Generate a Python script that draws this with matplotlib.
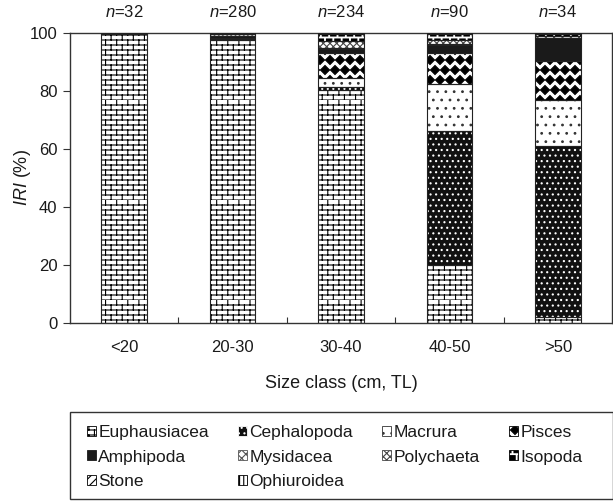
import warnings
warnings.filterwarnings('ignore')
import numpy as np
import matplotlib
matplotlib.use('Agg')
import matplotlib.pyplot as plt
import matplotlib.hatch as mhatch
import matplotlib.patches as mpatches
from matplotlib.path import Path
from matplotlib.ticker import FixedLocator

# ---------------- data ----------------
size_classes = ['<20', '20-30', '30-40', '40-50', '>50']
n_fish = [32, 280, 234, 90, 34]

euphausiacea = [99.6, 97.5, 80.3, 20.0, 2.0]
cephalopoda = [0.0, 0.3, 1.2, 46.3, 59.1]
macrura = [0.0, 0.3, 3.0, 16.0, 15.9]
pisces = [0.0, 0.2, 8.5, 10.7, 13.3]
amphipoda = [0.4, 0.6, 1.5, 3.0, 8.1]
mysidacea = [0.0, 0.8, 0.3, 0.3, 0.5]
polychaeta = [0.0, 0.1, 2.3, 1.2, 0.2]
isopoda = [0.0, 0.1, 2.7, 2.3, 0.7]
stone = [0.0, 0.05, 0.1, 0.1, 0.1]
ophiuroidea = [0.0, 0.05, 0.1, 0.1, 0.1]

prey_names = ['Euphausiacea', 'Cephalopoda', 'Macrura', 'Pisces', 'Amphipoda',
              'Mysidacea', 'Polychaeta', 'Isopoda', 'Stone', 'Ophiuroidea']
prey_values = [euphausiacea, cephalopoda, macrura, pisces, amphipoda,
               mysidacea, polychaeta, isopoda, stone, ophiuroidea]


# ---------------- custom hatch patterns ----------------
class BrickHatch(mhatch.HatchPatternBase):
    def __init__(self, hatch, density):
        n = hatch.count('b')
        self.rows = 20 if n else 0
        self.cols = 9
        self.num_lines = self.rows + self.rows * self.cols
        self.num_vertices = self.num_lines * 2

    def set_vertices_and_codes(self, vertices, codes):
        segs = []
        for r in range(self.rows):
            y0 = r / self.rows
            y1 = (r + 1) / self.rows
            segs.append([[0.0, y0], [1.0, y0]])
            off = 0.0 if r % 2 == 0 else 0.5 / self.cols
            for c in range(self.cols):
                xx = c / self.cols + off
                segs.append([[xx, y0], [xx, y1]])
        vertices[:] = np.array(segs, float).reshape(-1, 2)
        codes[0::2] = Path.MOVETO
        codes[1::2] = Path.LINETO


class FilledDiamonds(mhatch.Shapes):
    size = 0.45
    filled = True

    def __init__(self, hatch, density):
        self.num_rows = hatch.count('d') * 10
        self.shape_vertices = np.array([[0, 1], [1, 0], [0, -1], [-1, 0], [0, 1]], float)
        self.shape_codes = np.array([Path.MOVETO, Path.LINETO, Path.LINETO,
                                     Path.LINETO, Path.CLOSEPOLY], dtype=Path.code_type)
        super().__init__(hatch, density)


class FilledSquares(mhatch.Shapes):
    size = 0.32
    filled = True

    def __init__(self, hatch, density):
        self.num_rows = hatch.count('s') * 12
        self.shape_vertices = np.array([[-1, -1], [1, -1], [1, 1], [-1, 1], [-1, -1]], float)
        self.shape_codes = np.array([Path.MOVETO, Path.LINETO, Path.LINETO,
                                     Path.LINETO, Path.CLOSEPOLY], dtype=Path.code_type)
        super().__init__(hatch, density)


mhatch._hatch_types.extend([BrickHatch, FilledDiamonds, FilledSquares])

# face colour, hatch colour, hatch
styles = {
    'Euphausiacea': ('white', 'black', 'b'),
    'Cephalopoda': ('#111111', 'white', '...'),
    'Macrura': ('white', '#333333', '..'),
    'Pisces': ('white', 'black', 'd'),
    'Amphipoda': ('#1a1a1a', '#1a1a1a', ''),
    'Mysidacea': ('white', '#555555', 'xxxx'),
    'Polychaeta': ('white', '#444444', 'xxxxx'),
    'Isopoda': ('white', 'black', 's'),
    'Stone': ('white', 'black', '////'),
    'Ophiuroidea': ('white', 'black', '||||'),
}

plt.rcParams['font.family'] = ['Liberation Sans', 'DejaVu Sans']
plt.rcParams['mathtext.fontset'] = 'custom'
plt.rcParams['mathtext.rm'] = 'Liberation Sans'
plt.rcParams['mathtext.it'] = 'Liberation Sans:italic'
plt.rcParams['hatch.linewidth'] = 0.8
txt_color = '#1a1a1a'

fig = plt.figure(figsize=(6.13, 5.01), dpi=100)
ax = fig.add_axes([70 / 613, 1 - 323 / 501, 542 / 613, 290 / 501])

x = np.arange(len(size_classes))
width = 0.42
bottom = np.zeros(len(size_classes))
for name, vals in zip(prey_names, prey_values):
    vals = np.asarray(vals, float)
    fc, hc, h = styles[name]
    ax.bar(x, vals, width=width, bottom=bottom, color=fc, edgecolor=hc,
           hatch=h, linewidth=0, zorder=2)
    mask = vals > 0
    ax.bar(x[mask], vals[mask], width=width, bottom=bottom[mask], fill=False,
           edgecolor='#222222', linewidth=0.8, zorder=3)
    bottom = bottom + vals

ax.set_xlim(-0.5, len(size_classes) - 0.5)
ax.set_ylim(0, 100)
ax.set_yticks([0, 20, 40, 60, 80, 100])
ax.set_xticks(x)
ax.set_xticklabels(size_classes)
ax.xaxis.set_minor_locator(FixedLocator(x[:-1] + 0.5))
ax.tick_params(axis='x', which='major', length=0, pad=12, labelsize=12, labelcolor=txt_color)
ax.tick_params(axis='x', which='minor', direction='in', length=4, width=0.8, color='#333333')
ax.tick_params(axis='y', which='major', direction='out', length=5, width=0.8, pad=4,
               labelsize=12, labelcolor=txt_color, color='#333333')
for sp in ax.spines.values():
    sp.set_color('#333333')
    sp.set_linewidth(1.0)

ax.set_ylabel('$IRI$ (%)', fontsize=13, color=txt_color)
ax.yaxis.set_label_coords(-0.068, 0.5)
ax.set_xlabel('Size class (cm, TL)', fontsize=13, color=txt_color)
ax.xaxis.set_label_coords(0.5, -0.18)

for xi, n in zip(x, n_fish):
    ax.annotate('$n$=%d' % n, xy=(xi, 100), xytext=(0, 15), textcoords='offset points',
                ha='center', va='center', fontsize=12, color=txt_color, annotation_clip=False)

# legend (row-major order as in the reference)
order = ['Euphausiacea', 'Amphipoda', 'Stone', 'Cephalopoda', 'Mysidacea',
         'Ophiuroidea', 'Macrura', 'Polychaeta', 'Pisces', 'Isopoda']
handles = []
for name in order:
    fc, hc, h = styles[name]
    handles.append(mpatches.Patch(facecolor=fc, edgecolor=hc, hatch=h, linewidth=0.6,
                                  label=name))
leg = fig.legend(handles=handles, ncol=4, loc='upper left',
                 bbox_to_anchor=(87 / 613, 1 - 425 / 501), borderaxespad=0,
                 fontsize=12.5, handlelength=0.5, handleheight=0.5, handletextpad=0.15,
                 labelspacing=0.55, borderpad=0, columnspacing=1.68, frameon=False)
for t in leg.get_texts():
    t.set_color(txt_color)

# legend box
box = mpatches.Rectangle((70 / 613, 1 - 499 / 501), 543 / 613, 87 / 501,
                         transform=fig.transFigure, fill=False, edgecolor='#333333',
                         linewidth=1.0, clip_on=False)
fig.add_artist(box)

fig.savefig('out.png', dpi=100)
